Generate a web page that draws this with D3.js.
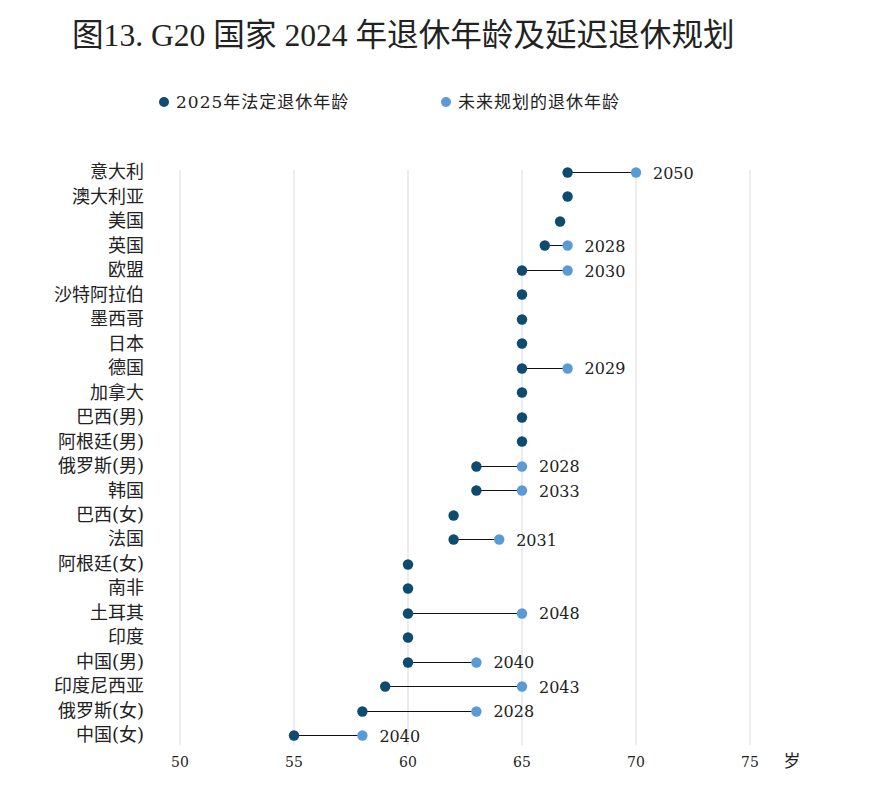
<!DOCTYPE html>
<html>
<head>
<meta charset="utf-8">
<script src="https://cdn.jsdelivr.net/npm/d3@7"></script>
<style>
  body { margin: 0; background: #fff; }
  text { font-family: "DejaVu Serif", "Noto Sans CJK SC", serif; fill: #222; }
</style>
</head>
<body>
<div id="chart"></div>
<script>
// data
const countries = ["意大利","澳大利亚","美国","英国","欧盟","沙特阿拉伯","墨西哥","日本","德国","加拿大","巴西(男)","阿根廷(男)","俄罗斯(男)","韩国","巴西(女)","法国","阿根廷(女)","南非","土耳其","印度","中国(男)","印度尼西亚","俄罗斯(女)","中国(女)"];
const currentAge = [67,67,66.67,66,65,65,65,65,65,65,65,65,63,63,62,62,60,60,60,60,60,59,58,55];
const plannedAge = [70,null,null,67,67,null,null,null,67,null,null,null,65,65,null,64,null,null,65,null,63,65,63,58];
const plannedYear = ["2050",null,null,"2028","2030",null,null,null,"2029",null,null,null,"2028","2033",null,"2031",null,null,"2048",null,"2040","2043","2028","2040"];
const xTicks = [50,55,60,65,70,75];

const width = 876, height = 786;
const darkColor = "#0e4b70", lightColor = "#5b9bd5";

const svg = d3.select('#chart').append('svg')
  .attr('width', width).attr('height', height);

svg.append('text')
  .attr('x', 72).attr('y', 46)
  .style('font-family', '"Liberation Serif", "Noto Sans CJK SC", serif')
  .style('font-size', '31.6px')
  .text('图13. G20 国家 2024 年退休年龄及延迟退休规划');

// legend
const legend = [
  {label: "2025年法定退休年龄", color: darkColor, x: 164},
  {label: "未来规划的退休年龄", color: lightColor, x: 446}
];
const lg = svg.append('g').selectAll('g').data(legend).join('g')
  .attr('transform', d => `translate(${d.x},102)`);
lg.append('circle').attr('r', 5).attr('fill', d => d.color);
lg.append('text').attr('x', 12).attr('dy', '0.35em')
  .style('font-size', '17px').style('letter-spacing', '1px')
  .text(d => d.label);

const x = d3.scaleLinear().domain([50, 75]).range([180, 750]);
const y = d3.scalePoint().domain(countries).range([172, 735]);

// gridlines
svg.append('g').selectAll('line').data(xTicks).join('line')
  .attr('x1', d => x(d)).attr('x2', d => x(d))
  .attr('y1', 170).attr('y2', 745)
  .attr('stroke', '#d9d9d9').attr('stroke-width', 1);

// x axis labels
svg.append('g').selectAll('text').data(xTicks).join('text')
  .attr('x', d => x(d)).attr('y', 767)
  .attr('text-anchor', 'middle')
  .style('font-size', '14px')
  .text(d => d);
svg.append('text').attr('x', 792).attr('y', 767)
  .attr('text-anchor', 'middle').style('font-size', '17px').text('岁');

// y labels
svg.append('g').selectAll('text').data(countries).join('text')
  .attr('x', 144).attr('y', d => y(d)).attr('dy', '0.35em')
  .attr('text-anchor', 'end')
  .style('font-size', '18px')
  .text(d => d);

const rows = countries.map((c, i) => ({
  name: c, cur: currentAge[i], plan: plannedAge[i], year: plannedYear[i]
}));
const planned = rows.filter(d => d.plan != null);

const g = svg.append('g');
g.selectAll('line.link').data(planned).join('line')
  .attr('class', 'link')
  .attr('x1', d => x(d.cur)).attr('x2', d => x(d.plan))
  .attr('y1', d => Math.round(y(d.name)) + 0.5).attr('y2', d => Math.round(y(d.name)) + 0.5)
  .attr('stroke', '#111').attr('stroke-width', 1);

g.selectAll('circle.plan').data(planned).join('circle')
  .attr('class', 'plan')
  .attr('cx', d => x(d.plan)).attr('cy', d => Math.round(y(d.name)) + 0.5)
  .attr('r', 5.2).attr('fill', lightColor);

g.selectAll('circle.cur').data(rows).join('circle')
  .attr('class', 'cur')
  .attr('cx', d => x(d.cur)).attr('cy', d => Math.round(y(d.name)) + 0.5)
  .attr('r', 5.2).attr('fill', darkColor);

g.selectAll('text.year').data(planned).join('text')
  .attr('class', 'year')
  .attr('x', d => x(d.plan) + 17).attr('y', d => y(d.name) + 1)
  .attr('dy', '0.35em')
  .style('font-size', '16px')
  .text(d => d.year);
</script>
</body>
</html>
